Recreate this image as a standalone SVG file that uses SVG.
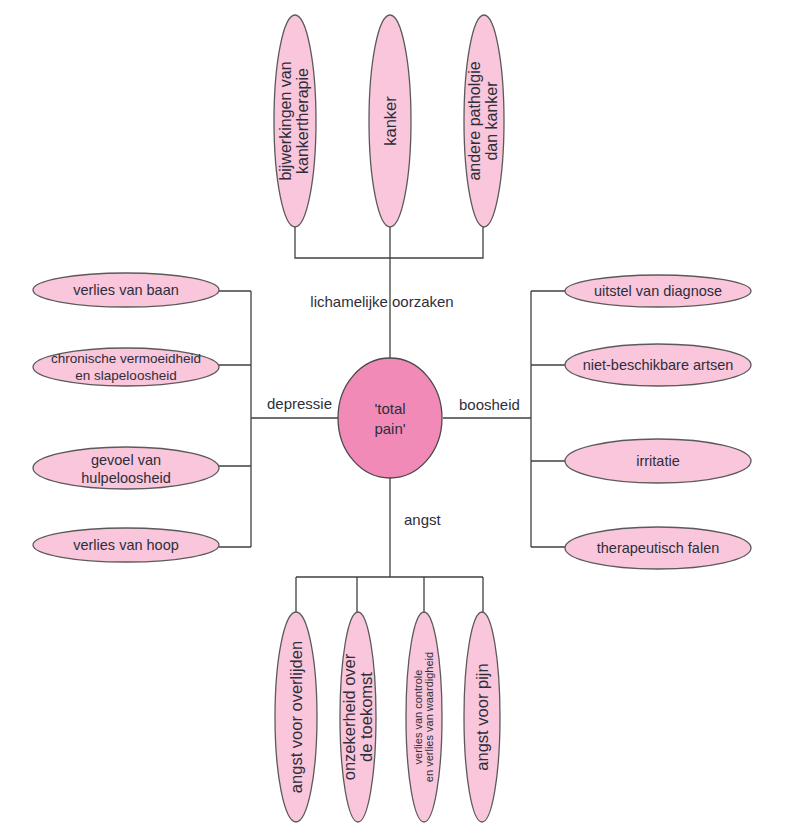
<svg xmlns="http://www.w3.org/2000/svg" width="804" height="825" viewBox="0 0 804 825">
<style>
.n{fill:#F9C6DC;stroke:#5a5a5a;stroke-width:1.3}
.c{fill:#F28AB8;stroke:#4a4a4a;stroke-width:1.3}
.t{font-family:"Liberation Sans",Arial,sans-serif;fill:#2e2e3a;text-anchor:middle}
.l{font-family:"Liberation Sans",Arial,sans-serif;fill:#2e2e3a;font-size:15px}
.e{fill:none;stroke:#404040;stroke-width:1.3}
</style>
<rect width="804" height="825" fill="#fff"/>
<g id="connectors">
<path class="e" d="M295,227 V258 H483 V227"/>
<path class="e" d="M390,227 V358" stroke="#707070"/>
<path class="e" d="M338,418 H251 M251,291 V547 M219,291 H251 M219,365 H251 M219,466 H251 M219,547 H251"/>
<path class="e" d="M443,418 H531 M531,291 V547 M531,291 H565 M531,365 H565 M531,461 H565 M531,547 H565"/>
<path class="e" d="M390,478 V577 M296,577 H483 M296,577 V612 M357,577 V612 M424,577 V612 M483,577 V612"/>
</g>
<g id="labels">
<text class="l" x="382" y="307" text-anchor="middle">lichamelijke oorzaken</text>
<text class="l" x="267" y="409">depressie</text>
<text class="l" x="459" y="410">boosheid</text>
<text class="l" x="404" y="525">angst</text>
</g>
<g id="center">
<ellipse class="c" cx="390" cy="418" rx="52" ry="60"/>
<text class="t" font-size="15" x="390" y="414">'total</text>
<text class="t" font-size="15" x="390" y="434">pain'</text>
</g>
<g id="top1">
<ellipse class="n" cx="295" cy="121" rx="21" ry="106"/>
<text class="t" font-size="16" transform="rotate(-90 295 121)" x="295" y="117">bijwerkingen van<tspan x="295" dy="17">kankertherapie</tspan></text>
</g>
<g id="top2">
<ellipse class="n" cx="390" cy="121" rx="21" ry="106"/>
<text class="t" font-size="16.5" transform="rotate(-90 390 121)" x="390" y="127">kanker</text>
</g>
<g id="top3">
<ellipse class="n" cx="484" cy="121" rx="20" ry="106"/>
<text class="t" font-size="16" transform="rotate(-90 484 121)" x="484" y="117">andere patholgie<tspan x="484" dy="17">dan kanker</tspan></text>
</g>
<g id="left1">
<ellipse class="n" cx="126" cy="290" rx="93" ry="17"/>
<text class="t" font-size="14.5" x="126" y="295">verlies van baan</text>
</g>
<g id="left2">
<ellipse class="n" cx="126" cy="367" rx="93" ry="19"/>
<text class="t" font-size="13.5" x="126" y="363">chronische vermoeidheid<tspan x="126" dy="17">en slapeloosheid</tspan></text>
</g>
<g id="left3">
<ellipse class="n" cx="126" cy="468" rx="93" ry="21"/>
<text class="t" font-size="14.5" x="126" y="465">gevoel van<tspan x="126" dy="18">hulpeloosheid</tspan></text>
</g>
<g id="left4">
<ellipse class="n" cx="126" cy="545" rx="93" ry="17"/>
<text class="t" font-size="14.5" x="126" y="550">verlies van hoop</text>
</g>
<g id="right1">
<ellipse class="n" cx="658" cy="291" rx="93" ry="16"/>
<text class="t" font-size="14.5" x="658" y="296">uitstel van diagnose</text>
</g>
<g id="right2">
<ellipse class="n" cx="658" cy="365" rx="93" ry="21"/>
<text class="t" font-size="14.5" x="658" y="370">niet-beschikbare artsen</text>
</g>
<g id="right3">
<ellipse class="n" cx="658" cy="461" rx="93" ry="22"/>
<text class="t" font-size="14.5" x="658" y="466">irritatie</text>
</g>
<g id="right4">
<ellipse class="n" cx="658" cy="548" rx="93" ry="21"/>
<text class="t" font-size="14.5" x="658" y="553">therapeutisch falen</text>
</g>
<g id="bottom1">
<ellipse class="n" cx="296" cy="717" rx="21" ry="105"/>
<text class="t" font-size="16.5" transform="rotate(-90 296 717)" x="296" y="723">angst voor overlijden</text>
</g>
<g id="bottom2">
<ellipse class="n" cx="358" cy="717" rx="18" ry="105"/>
<text class="t" font-size="16.5" transform="rotate(-90 358 717)" x="358" y="714">onzekerheid over<tspan x="358" dy="17">de toekomst</tspan></text>
</g>
<g id="bottom3">
<ellipse class="n" cx="424" cy="717" rx="18" ry="105"/>
<text class="t" font-size="11" transform="rotate(-90 424 717)" x="424" y="715">verlies van controle<tspan x="424" dy="11">en verlies van waardigheid</tspan></text>
</g>
<g id="bottom4">
<ellipse class="n" cx="482" cy="717" rx="18" ry="105"/>
<text class="t" font-size="16.5" transform="rotate(-90 482 717)" x="482" y="723">angst voor pijn</text>
</g>
</svg>
